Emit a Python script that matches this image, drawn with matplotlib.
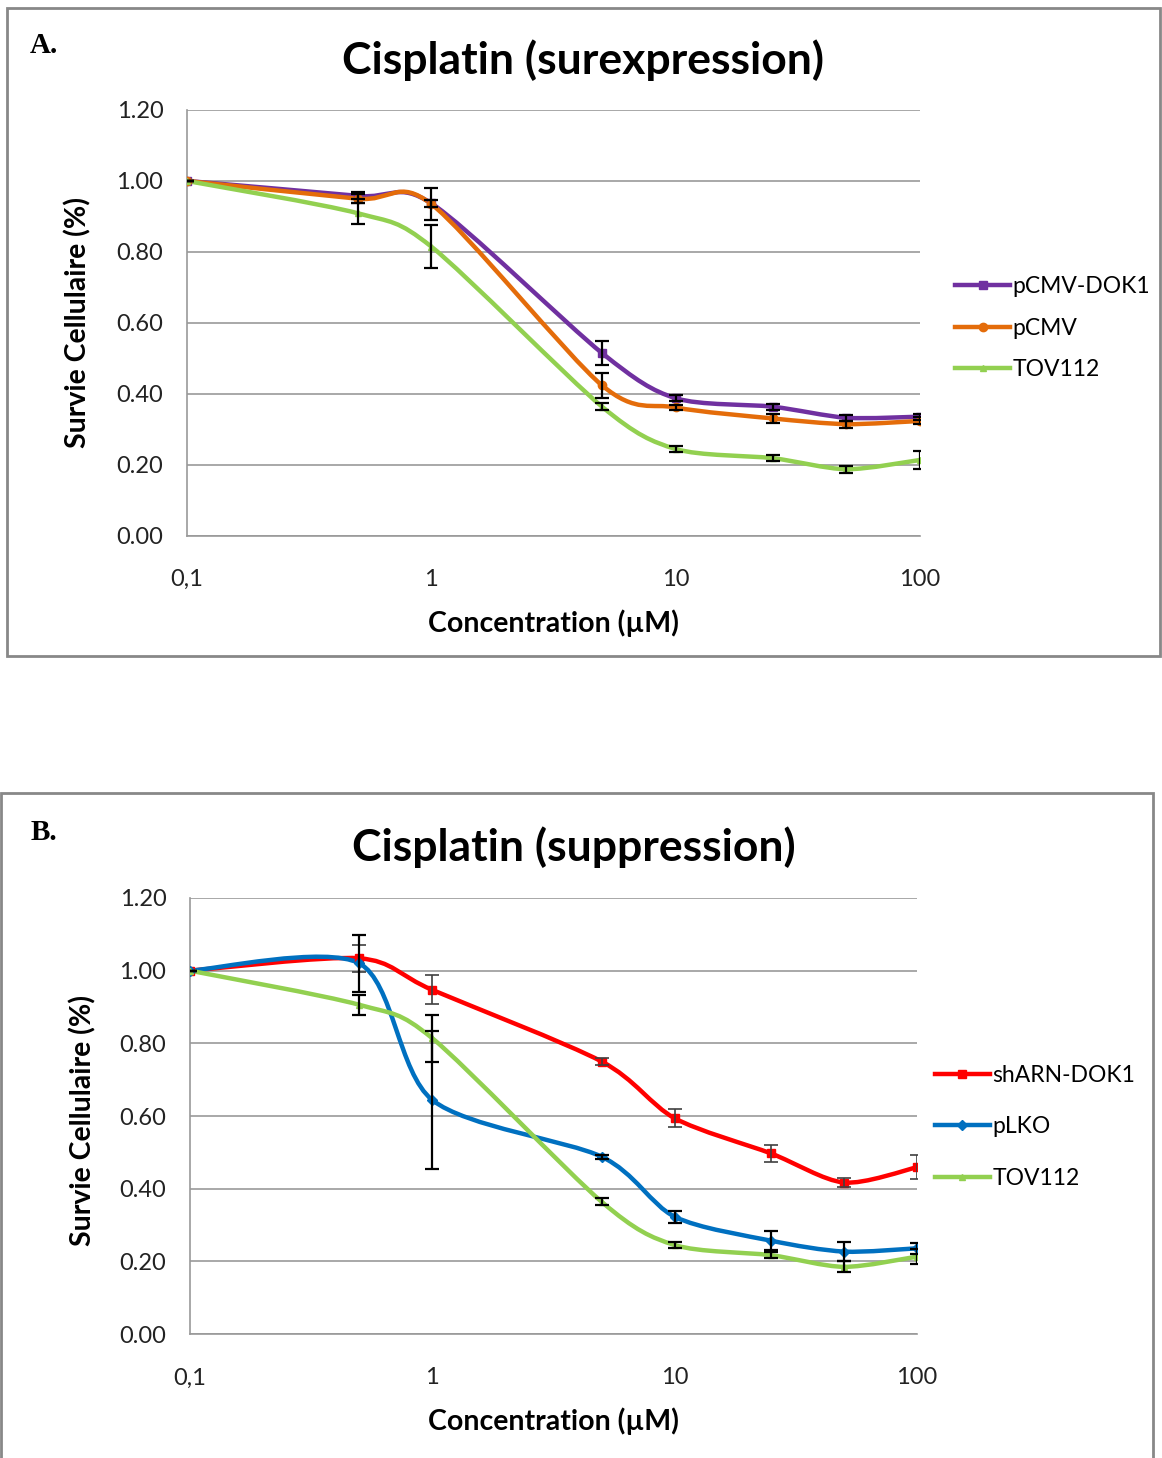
import numpy as np
import matplotlib
matplotlib.use('Agg')
import matplotlib.pyplot as plt
from matplotlib.path import Path
from matplotlib.patches import PathPatch, Rectangle
from matplotlib.lines import Line2D

plt.rcParams['font.family'] = ['Lato', 'DejaVu Sans']

# Concentrations (µM)
conc = [0.1, 0.5, 1, 5, 10, 25, 50, 100]

# Panel A : surexpression
dok1_a = [1.00, 0.958, 0.937, 0.515, 0.388, 0.364, 0.333, 0.336]
dok1_a_err = [0, 0.01, 0.01, 0.033, 0.008, 0.008, 0.008, 0.008]
pcmv_a = [1.00, 0.950, 0.935, 0.424, 0.362, 0.331, 0.315, 0.324]
pcmv_a_err = [0, 0.012, 0.045, 0.034, 0.008, 0.012, 0.01, 0.01]
tov_a = [1.00, 0.909, 0.815, 0.364, 0.245, 0.219, 0.188, 0.214]
tov_a_err = [0, 0.03, 0.06, 0.01, 0.008, 0.008, 0.01, 0.024]

# Panel B : suppression
sharn_b = [1.00, 1.034, 0.947, 0.750, 0.594, 0.497, 0.417, 0.459]
sharn_b_err = [0, 0.037, 0.04, 0.01, 0.024, 0.024, 0.012, 0.033]
plko_b = [1.00, 1.020, 0.644, 0.488, 0.323, 0.257, 0.227, 0.236]
plko_b_err = [0, 0.078, 0.19, 0.005, 0.017, 0.027, 0.025, 0.015]
tov_b = [1.00, 0.906, 0.814, 0.364, 0.245, 0.217, 0.185, 0.213]
tov_b_err = [0, 0.028, 0.065, 0.01, 0.008, 0.008, 0.015, 0.02]

yticks = [0.0, 0.2, 0.4, 0.6, 0.8, 1.0, 1.2]
xticks = [0.1, 1, 10, 100]
xticklabels = ['0,1', '1', '10', '100']


def smooth_path(x, y, k=0.14):
    # Excel-like smoothed line: Bezier segments (Catmull-Rom control points) in log-x space
    u = np.log10(np.asarray(x, dtype=float))
    v = np.asarray(y, dtype=float)
    n = len(u)
    verts = [(x[0], v[0])]
    codes = [Path.MOVETO]
    for i in range(n - 1):
        i0 = max(i - 1, 0)
        i3 = min(i + 2, n - 1)
        c1u = u[i] + (u[i + 1] - u[i0]) * k
        c1v = v[i] + (v[i + 1] - v[i0]) * k
        c2u = u[i + 1] - (u[i3] - u[i]) * k
        c2v = v[i + 1] - (v[i3] - v[i]) * k
        verts += [(10 ** c1u, c1v), (10 ** c2u, c2v), (x[i + 1], v[i + 1])]
        codes += [Path.CURVE4] * 3
    return Path(verts, codes)


def draw_series(ax, y, err, color, marker, ms, ecolor='black', elw=1.6):
    ax.add_patch(PathPatch(smooth_path(conc, y), fill=False, edgecolor=color,
                           lw=3.2, capstyle='round', zorder=3))
    ax.plot(conc, y, ls='none', marker=marker, ms=ms, color=color, zorder=4)
    ax.errorbar(conc, y, yerr=err, fmt='none', ecolor=ecolor, elinewidth=elw,
                capsize=5, capthick=elw, zorder=5)


def style_axes(ax):
    ax.set_xscale('log')
    ax.set_xlim(0.1, 100)
    ax.set_ylim(0, 1.2)
    ax.set_yticks(yticks)
    ax.set_yticklabels(['%.2f' % t for t in yticks])
    ax.set_xticks(xticks)
    ax.set_xticklabels(xticklabels)
    ax.xaxis.set_minor_locator(matplotlib.ticker.NullLocator())
    ax.tick_params(length=0, labelsize=17, colors='#222222')
    ax.tick_params(axis='y', pad=17)
    ax.tick_params(axis='x', pad=24)
    ax.grid(axis='y', color='#999999', lw=1.2)
    ax.set_axisbelow(True)
    for s in ['top', 'right']:
        ax.spines[s].set_visible(False)
    for s in ['left', 'bottom']:
        ax.spines[s].set_color('#999999')
        ax.spines[s].set_linewidth(1.2)
    ax.set_xlabel('Concentration (µM)', fontsize=20.5, fontweight='bold', labelpad=14)


fig = plt.figure(figsize=(11.62, 14.58), dpi=100)

# panel frames
fig.add_artist(Rectangle((0.006, 0.5501), 0.9923, 0.4444, transform=fig.transFigure,
                         fill=False, edgecolor='#888888', lw=2))
fig.add_artist(Rectangle((0.0005, -0.01), 0.9918, 0.4661, transform=fig.transFigure,
                         fill=False, edgecolor='#888888', lw=2))

# Panel A
axA = fig.add_axes([0.1609, 0.6324, 0.6308, 0.2922])
draw_series(axA, dok1_a, dok1_a_err, '#7030A0', 's', 6)
draw_series(axA, pcmv_a, pcmv_a_err, '#E46C0A', 'o', 6)
draw_series(axA, tov_a, tov_a_err, '#92D050', '^', 5)
style_axes(axA)
fig.text(0.5017, 0.9589, 'Cisplatin (surexpression)', ha='center', va='center',
         fontsize=32, fontweight='bold')
fig.text(0.067, 0.7785, 'Survie Cellulaire (%)', rotation=90, ha='center', va='center',
         fontsize=20.5, fontweight='bold')
fig.text(0.026, 0.969, 'A.', family='Liberation Serif', fontweight='bold', fontsize=21,
         va='center')
handlesA = [Line2D([], [], color='#7030A0', lw=3.2, marker='s', ms=6),
            Line2D([], [], color='#E46C0A', lw=3.2, marker='o', ms=6),
            Line2D([], [], color='#92D050', lw=3.2, marker='^', ms=5)]
axA.legend(handlesA, ['pCMV-DOK1', 'pCMV', 'TOV112'], loc='center left',
           bbox_to_anchor=(1.048, 0.488), frameon=False, fontsize=16.5,
           handlelength=2.4, handletextpad=0.1, labelspacing=0.9, borderpad=0,
           borderaxespad=0)

# Panel B
axB = fig.add_axes([0.1635, 0.0850, 0.6256, 0.2991])
draw_series(axB, sharn_b, sharn_b_err, '#FF0000', 's', 6, ecolor='#404040', elw=1.2)
draw_series(axB, plko_b, plko_b_err, '#0070C0', 'D', 5)
draw_series(axB, tov_b, tov_b_err, '#92D050', '^', 5)
style_axes(axB)
fig.text(0.494, 0.4191, 'Cisplatin (suppression)', ha='center', va='center',
         fontsize=32, fontweight='bold')
fig.text(0.071, 0.2318, 'Survie Cellulaire (%)', rotation=90, ha='center', va='center',
         fontsize=20.5, fontweight='bold')
fig.text(0.026, 0.4287, 'B.', family='Liberation Serif', fontweight='bold', fontsize=21,
         va='center')
handlesB = [Line2D([], [], color='#FF0000', lw=3.2, marker='s', ms=6),
            Line2D([], [], color='#0070C0', lw=3.2, marker='D', ms=5),
            Line2D([], [], color='#92D050', lw=3.2, marker='^', ms=5)]
axB.legend(handlesB, ['shARN-DOK1', 'pLKO', 'TOV112'], loc='center left',
           bbox_to_anchor=(1.0248, 0.475), frameon=False, fontsize=16.5,
           handlelength=2.4, handletextpad=0.1, labelspacing=1.34, borderpad=0,
           borderaxespad=0)

fig.savefig('out.png', dpi=100)
